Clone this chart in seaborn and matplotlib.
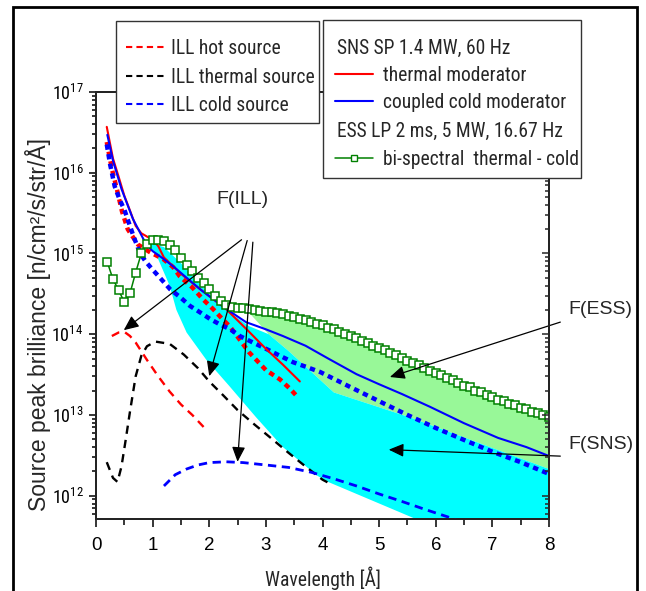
import numpy as np
import pandas as pd
import matplotlib
matplotlib.use("Agg")
import matplotlib.pyplot as plt
from matplotlib import font_manager
from matplotlib.lines import Line2D
from matplotlib.patches import Rectangle
from matplotlib.ticker import LogLocator, MultipleLocator, NullFormatter
import seaborn as sns

# ---------------- data ----------------
# ILL sources (dashed)
ill_hot_wl = [0.28, 0.4, 0.5, 0.6, 0.7, 0.9, 1.1, 1.3, 1.5, 1.7, 1.9]
ill_hot_b = [9.5e13, 1.05e14, 1.07e14, 9.5e13, 7.9e13, 4.8e13, 3.0e13, 1.95e13, 1.35e13, 1.0e13, 7.1e12]

ill_thermal_wl = [0.19, 0.3, 0.38, 0.45, 0.52, 0.6, 0.7, 0.8, 0.9, 1.05, 1.3, 1.55, 1.8, 2.0,
                  2.25, 2.5, 2.8, 3.1, 3.4, 3.7, 4.0, 4.1]
ill_thermal_b = [2.6e12, 1.66e12, 1.48e12, 2.3e12, 4.7e12, 1.1e13, 3.0e13, 5.4e13, 7.1e13, 8.1e13,
                 7.6e13, 5.6e13, 3.8e13, 2.6e13, 1.74e13, 1.15e13, 7.6e12, 5.1e12, 3.4e12, 2.3e12,
                 1.58e12, 1.45e12]

ill_cold_wl = [1.2, 1.4, 1.6, 1.8, 2.0, 2.3, 2.6, 3.0, 3.4, 3.8, 4.2, 4.6, 5.0, 5.4, 5.8, 6.2, 6.4]
ill_cold_b = [1.32e12, 1.82e12, 2.14e12, 2.4e12, 2.57e12, 2.63e12, 2.57e12, 2.4e12, 2.24e12,
              1.95e12, 1.62e12, 1.32e12, 1.05e12, 8.5e11, 6.8e11, 5.5e11, 4.9e11]

# SNS SP 1.4 MW, 60 Hz (solid)
sns_thermal_wl = [0.19, 0.3, 0.4, 0.5, 0.6, 0.7, 0.8, 0.9, 1.0, 1.1, 1.2, 1.5, 1.8, 2.0, 2.3,
                  2.66, 3.0, 3.3, 3.6]
sns_thermal_b = [3.7e16, 1.5e16, 8.9e15, 5.2e15, 3.4e15, 2.2e15, 1.78e15, 1.62e15, 1.48e15,
                 1.23e15, 8.9e14, 5.6e14, 3.8e14, 2.95e14, 2.04e14, 1.15e14, 6.6e13, 4.2e13, 2.6e13]

sns_cold_wl = [0.2, 0.3, 0.45, 0.65, 0.88, 1.0, 1.2, 1.4, 1.6, 1.85, 2.1, 2.35, 2.65, 3.0, 3.3,
               3.7, 4.1, 4.6, 5.0, 5.4, 5.9, 6.5, 7.1, 7.6, 8.0]
sns_cold_b = [2.95e16, 1.41e16, 6.3e15, 2.7e15, 1.32e15, 1.07e15, 8.5e14, 6.6e14, 5.0e14, 3.55e14,
              2.63e14, 1.95e14, 1.41e14, 1.15e14, 9.5e13, 7.2e13, 5.0e13, 3.2e13, 2.4e13, 1.82e13,
              1.26e13, 7.9e12, 5.2e12, 4.0e12, 3.1e12]

# unlabelled dotted (square-dot) curves
red_dot_wl = [0.19, 0.28, 0.37, 0.46, 0.56, 0.74, 0.94, 1.19, 1.36, 1.48, 1.7, 1.89, 2.07, 2.23,
              2.37, 2.5, 2.7, 3.0, 3.25, 3.43, 3.55]
red_dot_b = [2.4e16, 1.12e16, 6.2e15, 3.3e15, 2.0e15, 1.29e15, 1.05e15, 8.5e14, 6.8e14, 5.2e14,
             3.8e14, 2.7e14, 2.04e14, 1.55e14, 1.23e14, 9.3e13, 6.0e13, 3.6e13, 2.75e13, 2.1e13,
             1.7e13]

blue_dot_wl = [0.19, 0.25, 0.33, 0.42, 0.5, 0.58, 0.67, 0.78, 0.88, 1.0, 1.13, 1.31, 1.48, 1.66,
               1.84, 2.01, 2.19, 2.37, 2.54, 2.77, 3.02, 3.25, 3.48, 3.73, 3.96, 4.5, 5.0, 5.5,
               6.0, 6.5, 7.0, 7.5, 8.0]
blue_dot_b = [2.24e16, 1.26e16, 6.8e15, 4.6e15, 3.5e15, 2.4e15, 1.58e15, 1.0e15, 7.9e14, 6.3e14,
              5.0e14, 3.6e14, 2.9e14, 2.24e14, 1.86e14, 1.55e14, 1.32e14, 1.15e14, 9.5e13, 7.9e13,
              6.5e13, 5.4e13, 4.5e13, 3.9e13, 3.4e13, 2.2e13, 1.48e13, 1.0e13, 6.9e12, 4.9e12,
              3.5e12, 2.6e12, 1.86e12]

# ESS LP 2 ms, 5 MW, 16.67 Hz bi-spectral (squares, every 0.1 A from 0.2 to 8.0)
ess_wl = np.round(np.arange(0.2, 8.05, 0.1), 1)
ess_b = [7.8e14, 4.8e14, 3.5e14, 2.5e14, 3.2e14, 5.8e14, 1.0e15, 1.32e15, 1.48e15, 1.48e15,
         1.41e15, 1.29e15, 1.10e15, 8.9e14, 7.2e14, 6.0e14, 5.0e14, 4.3e14, 3.6e14, 3.0e14,
         2.6e14, 2.3e14, 2.2e14, 2.14e14, 2.09e14, 2.04e14, 2.0e14, 1.95e14, 1.9e14, 1.86e14,
         1.82e14, 1.78e14, 1.70e14, 1.62e14, 1.55e14, 1.48e14, 1.41e14, 1.35e14, 1.29e14, 1.20e14,
         1.15e14, 1.07e14, 1.02e14, 9.5e13, 8.9e13, 8.3e13, 7.8e13, 7.2e13, 6.8e13, 6.3e13,
         5.9e13, 5.5e13, 5.1e13, 4.7e13, 4.4e13, 4.1e13, 3.8e13, 3.5e13, 3.3e13, 3.1e13,
         2.9e13, 2.7e13, 2.5e13, 2.3e13, 2.2e13, 2.0e13, 1.9e13, 1.78e13, 1.66e13, 1.55e13,
         1.48e13, 1.38e13, 1.32e13, 1.23e13, 1.17e13, 1.10e13, 1.05e13, 1.0e13, 9.5e12]

# shaded regions F(ESS) (light green) and F(SNS) (cyan)
ess_fill_start = 2.5
ess_fill_low_wl = [2.5, 2.7, 3.05, 3.4, 4.2, 5.55, 8.0]
ess_fill_low_b = [2.14e14, 1.86e14, 1.0e14, 6.2e13, 1.9e13, 9.3e12, 2.14e12]

sns_fill_up_wl = [0.9, 1.0, 1.2, 1.5, 1.8, 2.1, 2.4, 2.7, 3.05, 3.4, 4.2, 5.55, 8.0]
sns_fill_up_b = [1.41e15, 1.32e15, 1.2e15, 7.6e14, 4.4e14, 2.7e14, 1.78e14, 1.26e14, 1.0e14,
                 6.2e13, 1.9e13, 9.3e12, 2.14e12]
sns_fill_low_wl = [0.9, 1.08, 1.3, 1.42, 1.6, 1.95, 2.35, 2.83, 3.3, 3.9, 4.1, 5.55, 8.0]
sns_fill_low_b = [1.41e15, 9.1e14, 4.0e14, 2.0e14, 1.05e14, 4.8e13, 2.3e13, 9.3e12, 4.0e12,
                  1.78e12, 1.48e12, 5.5e11, 1.0e11]

# annotations
region_labels = ['F(ILL)', 'F(ESS)', 'F(SNS)']
region_label_wl = [2.59, 8.91, 8.91]
region_label_b = [10 ** 15.67, 10 ** 14.30, 10 ** 12.64]
arrow_tail_wl = [2.57, 2.67, 2.77, 8.2, 8.2]
arrow_tail_b = [10 ** 15.17, 10 ** 15.16, 10 ** 15.14, 10 ** 14.15, 10 ** 12.49]
arrow_head_wl = [0.49, 2.0, 2.5, 5.19, 5.17]
arrow_head_b = [10 ** 14.05, 10 ** 13.48, 10 ** 12.42, 10 ** 13.47, 10 ** 12.57]

ill_labels = ['ILL hot source', 'ILL thermal source', 'ILL cold source']
sns_header = 'SNS SP 1.4 MW, 60 Hz'
sns_labels = ['thermal moderator', 'coupled cold moderator']
ess_header = 'ESS LP 2 ms, 5 MW, 16.67 Hz'
ess_label = 'bi-spectral  thermal - cold'

x_label = 'Wavelength [Å]'
y_label = 'Source peak brilliance [n/cm²/s/str/Å]'

# ---------------- style ----------------
sns.set_style("ticks")
plt.rcParams['font.family'] = ['Liberation Sans', 'DejaVu Sans']
_names = {f.name for f in font_manager.fontManager.ttflist}
NARROW = next((n for n in ['Arial Narrow', 'Liberation Sans Narrow', 'Roboto Condensed',
                           'Archivo Narrow', 'PT Sans Narrow'] if n in _names), 'Liberation Sans')
NARROW_FAM = [NARROW, 'DejaVu Sans']

RED, BLUE, BLACK, GREEN = '#ff0000', '#0000ff', '#000000', '#008000'
CYAN, LGREEN = '#00ffff', '#98f898'

W, H = 646, 591
fig = plt.figure(figsize=(W / 100, H / 100), dpi=100)
ax = fig.add_axes([96 / W, 1 - 519.3 / H, (549 - 96) / W, (519.3 - 92) / H])
ax.set_yscale('log')

# ---------------- shaded regions ----------------
ess_wl_arr = np.asarray(ess_wl)
ess_b_arr = np.asarray(ess_b)
sel = ess_wl_arr >= ess_fill_start
ax.fill(np.r_[ess_wl_arr[sel], np.asarray(ess_fill_low_wl)[::-1]],
        np.r_[ess_b_arr[sel], np.asarray(ess_fill_low_b)[::-1]],
        color=LGREEN, lw=0, zorder=1)
ax.fill(np.r_[sns_fill_up_wl, sns_fill_low_wl[::-1]],
        np.r_[sns_fill_up_b, sns_fill_low_b[::-1]],
        color=CYAN, lw=0, zorder=1.5)

# ---------------- curves ----------------
dot_style = (0, (1.2, 1.0))
sns.lineplot(x=red_dot_wl, y=red_dot_b, ax=ax, color=RED, lw=3.2, linestyle=dot_style,
             errorbar=None, legend=False, zorder=3)
sns.lineplot(x=blue_dot_wl, y=blue_dot_b, ax=ax, color=BLUE, lw=3.2, linestyle=dot_style,
             errorbar=None, legend=False, zorder=3)
sns.lineplot(x=sns_thermal_wl, y=sns_thermal_b, ax=ax, color=RED, lw=1.5,
             errorbar=None, legend=False, zorder=4)
sns.lineplot(x=sns_cold_wl, y=sns_cold_b, ax=ax, color=BLUE, lw=1.5,
             errorbar=None, legend=False, zorder=4)

dash_style = (0, (3.5, 2.6))
sns.lineplot(x=ill_hot_wl, y=ill_hot_b, ax=ax, color=RED, lw=1.7, linestyle=dash_style,
             errorbar=None, legend=False, zorder=4)
sns.lineplot(x=ill_thermal_wl, y=ill_thermal_b, ax=ax, color=BLACK, lw=1.7, linestyle=dash_style,
             errorbar=None, legend=False, zorder=4)
sns.lineplot(x=ill_cold_wl, y=ill_cold_b, ax=ax, color=BLUE, lw=2.0, linestyle=(0, (3.0, 2.0)),
             errorbar=None, legend=False, zorder=4)

sns.lineplot(x=ess_wl_arr, y=ess_b_arr, ax=ax, color=GREEN, lw=1.1, marker='s', markersize=5.2,
             markerfacecolor='white', markeredgecolor=GREEN, markeredgewidth=1.1,
             errorbar=None, legend=False, zorder=5)

# ---------------- axes ----------------
ax.set_xlim(0, 8)
ax.set_ylim(5.1e11, 1e17)
ax.xaxis.set_major_locator(MultipleLocator(1))
ax.xaxis.set_minor_locator(MultipleLocator(0.5))
ax.yaxis.set_major_locator(LogLocator(base=10, numticks=20))
ax.yaxis.set_minor_locator(LogLocator(base=10, subs=np.arange(2, 10), numticks=60))
ax.yaxis.set_minor_formatter(NullFormatter())
ax.tick_params(axis='both', which='both', direction='out', top=False, right=False,
               width=1.1, colors='black')
ax.tick_params(axis='x', which='major', length=6, pad=6.5, labelsize=13.5)
ax.tick_params(axis='x', which='minor', length=4)
ax.tick_params(axis='y', which='major', length=5, pad=4, labelsize=13, labelfontfamily=NARROW)
ax.tick_params(axis='y', which='minor', length=3)
for s in ax.spines.values():
    s.set_linewidth(1.3)
    s.set_color('black')

ax2 = ax.twinx()
ax2.set_yscale('log')
ax2.set_ylim(ax.get_ylim())
ax2.yaxis.set_major_locator(LogLocator(base=10, numticks=20))
ax2.yaxis.set_minor_locator(LogLocator(base=10, subs=np.arange(2, 10), numticks=60))
ax2.tick_params(axis='y', which='both', direction='in', labelright=False, width=1.1)
ax2.tick_params(axis='y', which='major', length=5)
ax2.tick_params(axis='y', which='minor', length=3)
for s in ax2.spines.values():
    s.set_linewidth(1.3)

renderer = fig.canvas.get_renderer()


def fit_size(texts, target_total, base):
    w = sum(t.get_window_extent(renderer).width for t in texts)
    return base * target_total / w


xl = ax.set_xlabel(x_label, fontsize=14, family=NARROW_FAM, va='center')
xl.set_fontsize(fit_size([xl], 117, 14))
ax.xaxis.set_label_coords(0.5, -(578 - 519.3) / 427.3)
ax.set_ylabel(y_label, fontsize=16.5, va='center')
ax.yaxis.set_label_coords((38 - 96) / 453, 1 - (325 - 92) / 427.3)

# ---------------- annotations ----------------
for lab, xw, yb in zip(region_labels, region_label_wl, region_label_b):
    ax.text(xw, yb, lab, fontsize=14, ha='center', va='center', zorder=8, clip_on=False)
for xt, yt, xh, yh in zip(arrow_tail_wl, arrow_tail_b, arrow_head_wl, arrow_head_b):
    ax.annotate('', xy=(xh, yh), xytext=(xt, yt), annotation_clip=False, zorder=7,
                arrowprops=dict(arrowstyle='-|>,head_length=0.45,head_width=0.2',
                                color='black', lw=0.9, shrinkA=0, shrinkB=0,
                                mutation_scale=20))

# ---------------- legends (boxes drawn in figure pixels) ----------------
def fpt(px, py):
    return (px / W, 1 - py / H)


def box(x0, y0, x1, y1):
    fig.add_artist(Rectangle(fpt(x0, y1), (x1 - x0) / W, (y1 - y0) / H,
                             transform=fig.transFigure, facecolor='white',
                             edgecolor='#333333', lw=1.0, zorder=10))


def handle(x0, x1, y, **kw):
    a, b = fpt(x0, y)
    c, d = fpt(x1, y)
    fig.add_artist(Line2D([a, c], [b, d], transform=fig.transFigure, zorder=11, **kw))


leg_entries = []  # (x_px, row_center_px, text)
box(116, 21, 319, 123)
for lab, col, yy in zip(ill_labels, [RED, BLACK, BLUE], [47, 75.5, 104]):
    handle(126, 165, yy, color=col, lw=1.5, linestyle=(0, (3, 2)))
    leg_entries.append((171, yy, lab))

box(323, 20, 581, 178)
leg_entries.append((337, 47, sns_header))
for lab, col, yy in zip(sns_labels, [RED, BLUE], [74, 101]):
    handle(335, 373, yy, color=col, lw=1.5)
    leg_entries.append((383, yy, lab))
leg_entries.append((337, 130, ess_header))
handle(335, 373, 158, color=GREEN, lw=1.1)
mx, my = fpt(354, 158)
fig.add_artist(Line2D([mx], [my], transform=fig.transFigure, marker='s', markersize=4,
                      markerfacecolor='white', markeredgecolor=GREEN, markeredgewidth=1.0,
                      linestyle='none', zorder=12))
leg_entries.append((383, 158, ess_label))

leg_texts = [fig.text(0, 0, s, ha='left', va='baseline', fontsize=12,
                      family=NARROW_FAM, zorder=12) for _, _, s in leg_entries]
leg_target_widths = [109, 142, 116, 181, 138, 176, 235, 193]
LEG_FS = fit_size(leg_texts, sum(leg_target_widths), 12)
em = LEG_FS * 100 / 72
for t, (x, y, _) in zip(leg_texts, leg_entries):
    t.set_fontsize(LEG_FS)
    t.set_position(fpt(x, y + 0.36 * em))

# outer frame
fig.add_artist(Rectangle(fpt(13, 620), (637 - 13) / W, (620 - 7) / H, transform=fig.transFigure,
                         fill=False, edgecolor='black', lw=2.0, zorder=20))

fig.savefig('out.png', dpi=100)
